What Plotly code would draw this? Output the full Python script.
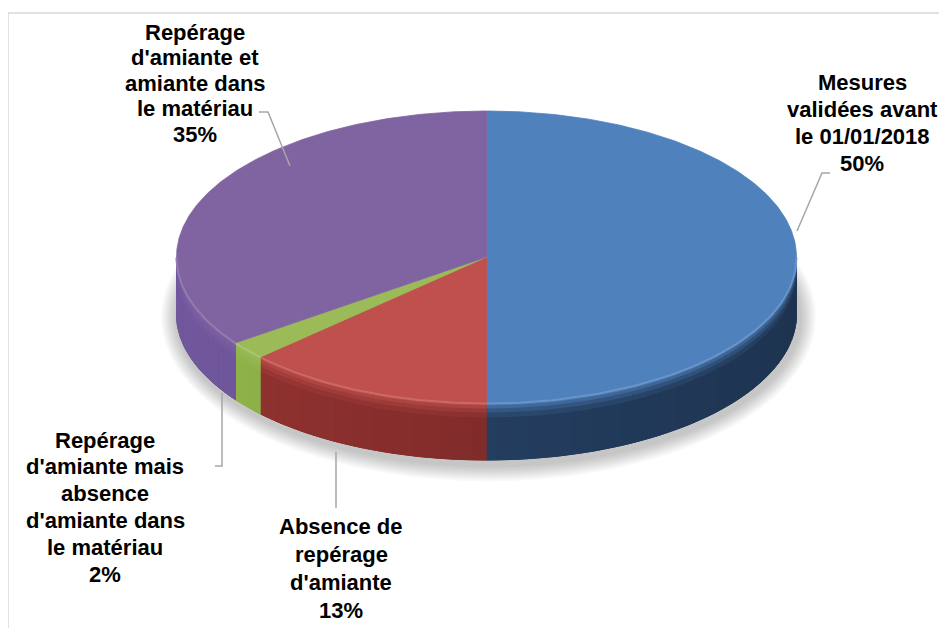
import numpy as np
import plotly.graph_objects as go

# ---------------- data ----------------
categories = [
    "Mesures validées avant le 01/01/2018",
    "Absence de repérage d'amiante",
    "Repérage d'amiante mais absence d'amiante dans le matériau",
    "Repérage d'amiante et amiante dans le matériau",
]
values = [50, 13, 2, 35]
label_lines = [
    ["Mesures", "validées avant", "le 01/01/2018"],
    ["Absence de", "repérage", "d'amiante"],
    ["Repérage", "d'amiante mais", "absence", "d'amiante dans", "le matériau"],
    ["Repérage", "d'amiante et", "amiante dans", "le matériau"],
]

# ---------------- styles / layout ----------------
W, H = 947, 628
OFF = 8  # page body margin: data coordinates == screen pixels
CX, CY, RX, RY, DEPTH = 486.5, 257.0, 310.0, 146.0, 57.0
top_colors = [(79, 129, 189), (192, 80, 77), (155, 187, 89), (128, 100, 162)]
side_colors = [(36, 62, 96), (128, 44, 42), (126, 158, 64), (98, 76, 136)]
# label placement: (center x, first line y, line spacing)
label_pos = [(862, 82, 27.0), (341, 526, 28.0), (105, 440, 26.8), (195, 32, 25.5)]
leaders = [
    [(830, 173), (822, 173), (797, 231)],
    [(336, 508), (336, 452)],
    [(215, 466), (222, 466), (222, 393)],
    [(259, 112), (268, 112), (290, 166)],
]
FONT = "Liberation Sans, Arial, Helvetica, sans-serif"

total = float(sum(values))
bounds = np.concatenate([[0.0], np.cumsum(values)]) / total * 360.0


def P(theta_deg, dz=0.0):
    t = np.radians(theta_deg)
    return CX + RX * np.sin(t), CY - RY * np.cos(t) + dz


def rgb(c, f=1.0):
    r, g, b = [int(max(0, min(255, round(v * f)))) for v in c]
    return f"rgb({r},{g},{b})"


def mix(a, b, t):
    return tuple(a[i] * (1 - t) + b[i] * t for i in range(3))


def band_poly(t0, t1, z0, z1, npts):
    th = np.linspace(t0, t1, npts)
    xa, ya = P(th, z0)
    xb, yb = P(th[::-1], z1)
    return np.concatenate([xa, xb]), np.concatenate([ya, yb])


fig = go.Figure()

# soft shadow under the pie
for k in range(10):
    t = np.linspace(0, 360, 181)
    x = CX + 2 + (RX + 3 + 1.6 * k) * np.sin(np.radians(t))
    y = CY + DEPTH + 3 - (RY + 4 + 1.6 * k) * np.cos(np.radians(t))
    fig.add_trace(go.Scatter(x=x, y=y, fill="toself", mode="none",
                             fillcolor="rgba(0,0,0,0.022)", hoverinfo="skip"))

# side walls (visible front half: 90..270 degrees)
bands = [(0, 3, 0.12), (3, 6, 0.35), (6, 10, 0.62), (10, 15, 0.85), (15, DEPTH, 1.0)]
for i in range(len(values)):
    a, b = bounds[i], bounds[i + 1]
    lo, hi = max(a, 90.0), min(b, 270.0)
    if lo >= hi:
        continue
    # solid underlay to hide seams between shading strips
    x, y = band_poly(lo, hi, 0, DEPTH, 80)
    base = rgb(side_colors[i])
    fig.add_trace(go.Scatter(x=x, y=y, fill="toself", mode="lines",
                             line=dict(color=base, width=1), fillcolor=base, hoverinfo="skip"))
    n = max(1, int(np.ceil((hi - lo) / 2.0)))
    edges = np.linspace(lo, hi, n + 1)
    for s0, s1 in zip(edges[:-1], edges[1:]):
        mid = 0.5 * (s0 + s1)
        light = 1.0 - 0.16 * np.sin(np.radians(mid))
        for z0, z1, tt in bands:
            x, y = band_poly(s0, s1, z0, z1, 4)
            f = 1.0 + (light - 1.0) * tt
            col = rgb(mix(top_colors[i], side_colors[i], tt), f)
            fig.add_trace(go.Scatter(x=x, y=y, fill="toself", mode="lines",
                                     line=dict(color=col, width=1.0),
                                     fillcolor=col, hoverinfo="skip"))

# top faces
for i in range(len(values)):
    a, b = bounds[i], bounds[i + 1]
    th = np.linspace(a, b, max(3, int((b - a) * 2)))
    xs, ys = P(th)
    x = np.concatenate([[CX], xs, [CX]])
    y = np.concatenate([[CY], ys, [CY]])
    col = rgb(top_colors[i])
    fig.add_trace(go.Scatter(x=x, y=y, fill="toself", mode="lines",
                             line=dict(color=col, width=0.8), fillcolor=col,
                             name=categories[i], hoverinfo="name"))

# bevel highlight on front rim
for i in range(len(values)):
    a, b = bounds[i], bounds[i + 1]
    lo, hi = max(a, 90.0), min(b, 270.0)
    if lo >= hi:
        continue
    th = np.linspace(lo, hi, 60)
    xs, ys = P(th, 0.5)
    fig.add_trace(go.Scatter(x=xs, y=ys, mode="lines",
                             line=dict(color=rgb(mix(top_colors[i], (255, 255, 255), 0.15)), width=2),
                             hoverinfo="skip"))

# leader lines
for pts in leaders:
    fig.add_trace(go.Scatter(x=[p[0] for p in pts], y=[p[1] for p in pts], mode="lines",
                             line=dict(color="#A6A6A6", width=1.5), hoverinfo="skip"))

# labels
annotations = []
for i in range(len(values)):
    pct = f"{round(values[i] / total * 100)}%"
    lines = label_lines[i] + [pct]
    x0, y0, dy = label_pos[i]
    for j, txt in enumerate(lines):
        annotations.append(dict(x=x0, y=y0 + j * dy, xref="x", yref="y", text=txt,
                                showarrow=False, xanchor="center", yanchor="middle",
                                font=dict(family=FONT, size=22, color="#000000", weight="bold")))

shapes = [
    dict(type="line", x0=8, y0=13, x1=W + OFF, y1=13, xref="x", yref="y",
         line=dict(color="#D9D9D9", width=1.5)),
    dict(type="line", x0=8, y0=13, x1=8, y1=H + OFF, xref="x", yref="y",
         line=dict(color="#D9D9D9", width=1.5)),
]

fig.update_layout(
    width=W, height=H, margin=dict(l=0, r=0, t=0, b=0),
    paper_bgcolor="white", plot_bgcolor="white", showlegend=False,
    xaxis=dict(range=[OFF, W + OFF], visible=False, fixedrange=True),
    yaxis=dict(range=[H + OFF, OFF], visible=False, fixedrange=True),
    annotations=annotations, shapes=shapes,
)

fig.write_html("out.html")
